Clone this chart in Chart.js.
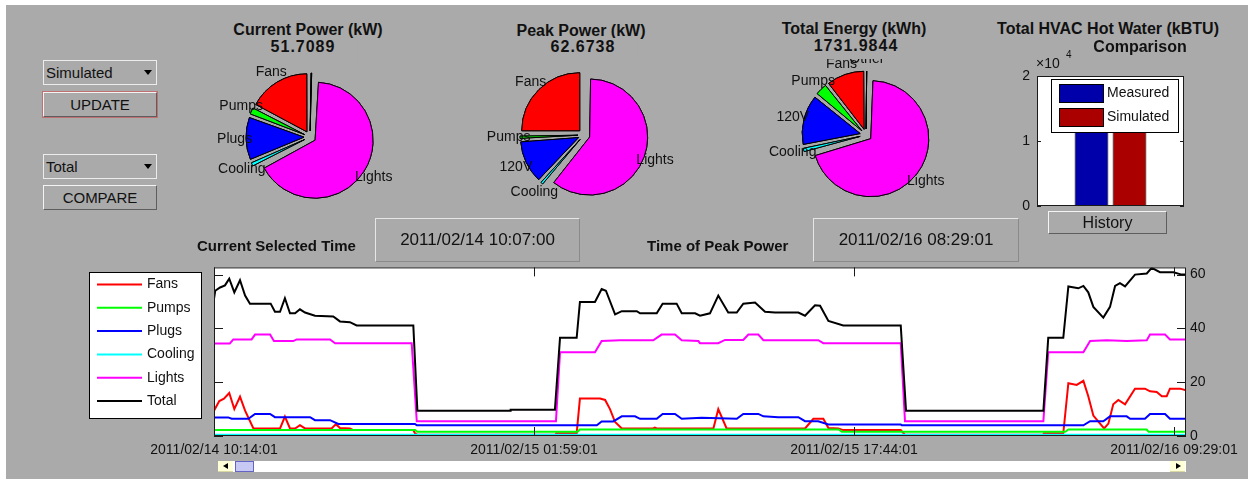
<!DOCTYPE html>
<html>
<head>
<meta charset="utf-8">
<title>Energy dashboard</title>
<script src="https://cdn.jsdelivr.net/npm/chart.js@4.4.1/dist/chart.umd.min.js"></script>
<style>
  html, body { margin: 0; padding: 0; width: 1248px; height: 479px; overflow: hidden; background: #fff; }
  body { position: relative; font-family: "Liberation Sans", Arial, sans-serif; color: #111; }
  #panel { position: absolute; left: 6px; top: 5px; right: 0; bottom: 0; background: #aaaaaa; }
  canvas { position: absolute; z-index: 1; }
  .ttl { position: absolute; transform: translateX(-50%); white-space: nowrap; font-weight: bold; font-size: 16px; line-height: 18px; z-index: 5; }
  .val { background: #aaaaaa; letter-spacing: 1px; padding: 0 22px 2px 22px; }
  .lbl { position: absolute; white-space: nowrap; font-weight: bold; font-size: 15px; line-height: 18px; z-index: 5; }
  .popup { position: absolute; box-sizing: border-box; width: 114px; height: 25px; border: 1px solid #ececec; font-size: 15px; line-height: 23px; padding-left: 2px; z-index: 5; }
  .popup:after { content: ''; position: absolute; right: 4px; top: 9px; border-left: 4px solid transparent; border-right: 4px solid transparent; border-top: 5px solid #000; }
  .btn { position: absolute; box-sizing: border-box; width: 114px; height: 25px; border-top: 1px solid #f4f4f4; border-left: 1px solid #f4f4f4; border-right: 1px solid #5e5e5e; border-bottom: 1px solid #5e5e5e; font-size: 15px; line-height: 23px; text-align: center; z-index: 5; }
  .foco { outline: 1px solid #c07070; }
  .caja { position: absolute; box-sizing: border-box; height: 44px; border: 1px solid #e6e6e6; border-right-color: #8a8a8a; border-bottom-color: #8a8a8a; font-size: 17px; line-height: 42px; text-align: center; z-index: 2; }
  .scroll { position: absolute; left: 218px; top: 461px; width: 968px; height: 11px; background: #fff; z-index: 3; }
  .flecha { position: absolute; top: 0; width: 15px; height: 10px; background: #ffffd8; border-bottom: 1px solid #d8d8a0; }
  .flecha i { position: absolute; top: 2px; width: 0; height: 0; border-top: 3px solid transparent; border-bottom: 3px solid transparent; }
  .thumb { position: absolute; left: 17px; top: 0; width: 17px; height: 9px; background: #c8c8f4; border: 1px solid #6464c4; }
</style>
</head>
<body>
<div id="panel"></div>

<!-- controles de la izquierda -->
<div class="popup" style="left:43px;top:60px;">Simulated</div>
<div class="btn foco" style="left:43px;top:92px;">UPDATE</div>
<div class="popup" style="left:43px;top:154px;">Total</div>
<div class="btn" style="left:43px;top:185px;">COMPARE</div>

<!-- titulos de los pasteles -->
<div class="ttl" style="left:308px;top:21px;">Current Power (kW)</div>
<div class="ttl val" style="left:303px;top:38px;padding-bottom:10px;">51.7089</div>
<div class="ttl" style="left:581px;top:22px;">Peak Power (kW)</div>
<div class="ttl val" style="left:583px;top:38px;">62.6738</div>
<div class="ttl" style="left:854px;top:20px;">Total Energy (kWh)</div>
<div class="ttl val" style="left:856px;top:37px;padding-bottom:4px;">1731.9844</div>
<div class="ttl" style="left:1108px;top:20px;">Total HVAC Hot Water (kBTU)</div>
<div class="ttl" style="left:1140px;top:38px;">Comparison</div>

<div class="btn" style="left:1048px;top:211px;width:119px;height:23px;line-height:21px;font-size:16px;">History</div>

<!-- tiempos -->
<div class="lbl" style="left:197px;top:237px;">Current Selected Time</div>
<div class="caja" style="left:375px;top:218px;width:205px;">2011/02/14 10:07:00</div>
<div class="lbl" style="left:647px;top:237px;">Time of Peak Power</div>
<div class="caja" style="left:813px;top:218px;width:206px;">2011/02/16 08:29:01</div>

<!-- barra de desplazamiento -->
<div class="scroll">
  <div class="flecha" style="left:0;"><i style="left:5px;border-right:5px solid #000;"></i></div>
  <div class="thumb"></div>
  <div class="flecha" style="left:952px;"><i style="left:6px;border-left:5px solid #000;"></i></div>
</div>

<canvas id="pie-actual" width="220" height="170" style="left:200px;top:52px;"></canvas>
<canvas id="pie-pico" width="220" height="170" style="left:474px;top:50px;"></canvas>
<canvas id="pie-energia" width="220" height="170" style="left:756px;top:50px;"></canvas>
<canvas id="grafico-barras" width="220" height="175" style="left:990px;top:50px;"></canvas>
<canvas id="grafico-linea" width="1248" height="224" style="left:0;top:255px;"></canvas>

<script>
// Datos de los pasteles (orden de MATLAB: antihorario desde arriba)
const etiquetasActual = ["Fans", "Pumps", "Plugs", "Cooling", "Lights", "Other"];
const etiquetasPico = ["Fans", "Pumps", "120V", "Cooling", "Lights", "Other"];
const etiquetasEnergia = ["Fans", "Pumps", "120V", "Cooling", "Lights", "Other"];
const potenciaActual = [8.9, 1.15, 6.15, 0.72, 34.44, 0.35];
const potenciaPico = [15.67, 0.69, 7.46, 0.69, 38.16, 0];
const energiaTotal = [182.9, 62.5, 240.6, 24.1, 1215.9, 6.0];
const coloresPastel = ["#ff0000", "#00ff00", "#0000ff", "#00ffff", "#ff00ff", "#000000"];

// Datos de la comparacion de agua caliente
const seriesHVAC = ["Measured", "Simulated"];
const valoresHVAC = [16200, 15800];
const ticksHVAC = [0, 10000, 20000];
const coloresHVAC = ["#0000aa", "#aa0000"];

// Serie temporal: [horas desde 2011/02/14 10:14:01, kW]
const seriesNombres = ["Fans", "Pumps", "Plugs", "Cooling", "Lights", "Total"];
const fans = [[0,9.4],[0.26,13],[0.49,13.9],[0.75,16],[1.0,10],[1.28,14.6],[1.53,9.4],[1.94,2.8],[3.25,2.8],[3.49,7.2],[3.74,2.8],[3.99,2.8],[4.23,4],[4.48,2.8],[5.79,2.8],[6.0,4.4],[6.2,3],[6.69,2.8],[6.86,2.2],[9.81,2.2],[9.89,1.0],[10.0,0.5],[16.8,0.5],[16.85,1.0],[17.85,1.0],[18.01,13.9],[19.0,13.9],[19.25,13.4],[19.49,10],[19.74,5.2],[20.07,2.8],[21.62,2.8],[21.7,3.1],[21.79,2.8],[24.58,2.8],[24.82,10],[25.23,2.8],[29.09,2.8],[29.5,6.4],[29.99,6.4],[30.24,3],[30.73,2.8],[30.97,2.2],[33.8,2.2],[34.0,0.5],[40.8,0.5],[40.85,1.0],[41.8,1.0],[42.05,19.6],[42.46,19],[42.79,20.5],[43.03,14.8],[43.28,7.6],[43.61,4.6],[43.81,2.8],[44.02,4.6],[44.26,11.8],[44.51,13.4],[44.84,11.8],[45.33,17.6],[45.82,17.6],[46.07,16.6],[46.4,16.4],[46.65,14.8],[46.89,14.8],[47.05,17.6],[47.55,17.6],[47.84,17]];
const pumps = [[0,2.2],[9.9,2.2],[10.0,1.6],[17.9,1.6],[18.0,2.4],[30.75,2.4],[30.9,1.6],[41.9,1.6],[42.05,2.4],[45.9,2.4],[46.0,1.6],[47.84,1.6]];
const plugs = [[0,6.9],[0.7,6.9],[0.87,6.4],[1.69,6.4],[2.02,8.2],[2.76,8.2],[3.0,7],[4.73,7],[4.97,5.9],[5.71,5.9],[6.12,4.5],[9.89,4.5],[9.98,4.0],[18.84,4.0],[19.08,5.4],[19.65,5.4],[20.07,7.3],[20.72,7.3],[20.97,6.4],[21.79,6.4],[22.08,8.2],[22.69,8.2],[23.02,6.4],[24.0,6.8],[25.73,6.4],[26.05,8.2],[26.79,8.2],[27.04,7.3],[27.77,7],[28.76,7],[29.09,5.5],[29.74,5.5],[30.24,4.3],[33.8,4.3],[33.85,4.0],[42.79,4.0],[43.12,5.5],[43.77,5.5],[44.1,7.3],[44.92,7.3],[45.09,6.4],[45.82,6.4],[46.07,8.2],[46.81,8.2],[47.05,6.4],[47.84,6.4]];
const cooling = [[0,0.5],[20,0.5],[47.84,0.5]];
const lights = [[0,34.4],[0.78,34.4],[0.95,35.9],[1.85,35.9],[2.02,37.7],[2.76,37.7],[2.95,35.3],[3.9,35.3],[4.07,35.9],[5.71,35.9],[5.96,34.5],[9.73,34.5],[9.98,5.5],[16.83,5.5],[17.03,31.1],[18.75,31.1],[19.08,35.3],[19.98,35.6],[21.62,35.6],[22.03,37.7],[22.69,37.7],[23.02,35.6],[23.84,35.3],[23.92,34.5],[24.82,34.5],[25.15,35.7],[26.05,35.7],[26.3,37.7],[26.79,37.7],[27.04,35.6],[29.74,35.6],[29.99,34.5],[33.8,34.5],[34.01,5.5],[40.82,5.5],[41.06,31.1],[42.79,31.1],[43.12,35.3],[43.94,35.6],[44.92,35.3],[45.91,35.6],[46.07,37.7],[46.81,37.7],[47.05,35.9],[47.84,35.9]];
const total = [[0,51],[0.06,54],[0.3,55.2],[0.54,56],[0.75,58.5],[1.0,53.4],[1.28,57.9],[1.53,52.2],[1.77,49.2],[2.79,49.2],[3.0,46.2],[3.25,46.2],[3.49,51.2],[3.74,45.6],[3.99,45.6],[4.23,47.1],[4.48,45.9],[4.97,44.7],[5.87,44.4],[6.2,42.6],[6.69,42.3],[7.02,41.1],[9.81,41.1],[10.01,9.4],[14.57,9.4],[14.6,9.8],[16.78,9.8],[17.03,36.5],[17.85,36.5],[18.01,49.8],[18.75,49.8],[19.08,54.6],[19.29,54],[19.74,45.2],[20.07,46.4],[20.81,46.4],[20.97,45.6],[21.79,45.6],[22.08,49.2],[22.77,49.2],[23.02,45.6],[23.68,45.6],[23.92,44.7],[24.41,45.6],[24.82,52.2],[25.31,45.9],[25.73,45.9],[26.05,49.2],[26.63,49.6],[27.12,46.2],[27.61,45.9],[28.76,45.9],[29.09,44.7],[29.58,48.6],[29.83,48.4],[30.24,42.8],[30.97,41.1],[33.8,41.1],[34.06,9.4],[40.82,9.4],[41.06,36.5],[41.8,36.5],[42.05,55.6],[42.54,54.9],[42.79,55.8],[43.03,53.4],[43.28,48],[43.77,44],[44.1,48],[44.35,55.8],[44.59,56.8],[44.84,55.6],[45.33,60],[45.91,60.4],[46.15,62.5],[46.56,60.9],[47.22,60.9],[47.63,60],[47.84,60]];
const seriesDatos = [fans, pumps, plugs, cooling, lights, total];
const seriesColores = ["#ff0000", "#00ff00", "#0000ff", "#00ffff", "#ff00ff", "#000000"];
const ticksHoras = [0, 15.75, 31.5, 47.25];
const ticksEtiquetas = ["2011/02/14 10:14:01", "2011/02/15 01:59:01", "2011/02/15 17:44:01", "2011/02/16 09:29:01"];
const ticksKW = [0, 20, 40, 60];
const potenciaMax = 62.6738;
const horasMax = 47.84;

Chart.defaults.font.family = '"Liberation Sans", Arial, sans-serif';
Chart.defaults.font.size = 14;
Chart.defaults.color = "#111";

const RADIO = 58;

// Como MATLAB: cada porcion y luego su texto, en orden antihorario
const etiquetasPastel = {
    id: "etiquetasPastel",
    beforeDatasetsDraw(chart) {
        const meta = chart.getDatasetMeta(0);
        const ds = chart.data.datasets[0];
        meta.data.forEach(arc => {
            // Chart.js agranda las porciones desplazadas; se compensa
            const circ = arc.endAngle - arc.startAngle;
            const fix = 1 - Math.sin(Math.min(Math.PI, circ));
            arc._radioOriginal = arc.outerRadius;
            arc.outerRadius = RADIO - (ds.offset / 4) * fix;
        });
    },
    afterDatasetsDraw(chart) {
        const ctx = chart.ctx;
        const meta = chart.getDatasetMeta(0);
        const ds = chart.data.datasets[0];
        for (let i = meta.data.length - 1; i >= 0; i--) {
            const arc = meta.data[i];
            if (!ds.data[i]) continue;
            arc.draw(ctx);
            const medio = (arc.startAngle + arc.endAngle) / 2;
            const r = RADIO * 1.3;
            ctx.save();
            ctx.font = "14px " + Chart.defaults.font.family;
            ctx.fillStyle = "#111";
            ctx.textAlign = "center";
            ctx.textBaseline = "middle";
            ctx.fillText(chart.data.labels[i], arc.x + Math.cos(medio) * r, arc.y + Math.sin(medio) * r);
            ctx.restore();
        }
        meta.data.forEach(arc => {
            if (arc._radioOriginal !== undefined) arc.outerRadius = arc._radioOriginal;
        });
    }
};

function crearPastel(id, etiquetas, valores) {
    // Chart.js gira en sentido horario: se invierte el orden
    return new Chart(document.getElementById(id), {
        type: "pie",
        data: {
            labels: etiquetas.slice().reverse(),
            datasets: [{
                data: valores.slice().reverse(),
                backgroundColor: coloresPastel.slice().reverse(),
                borderColor: "#000",
                borderWidth: 1,
                offset: 24,
                hoverOffset: 0,
                radius: RADIO
            }]
        },
        options: {
            responsive: false,
            animation: false,
            events: [],
            plugins: { legend: { display: false }, tooltip: { enabled: false } }
        },
        plugins: [etiquetasPastel]
    });
}

crearPastel("pie-actual", etiquetasActual, potenciaActual);
crearPastel("pie-pico", etiquetasPico, potenciaPico);
crearPastel("pie-energia", etiquetasEnergia, energiaTotal);

// Fondo blanco del area de trazado
const fondoArea = {
    id: "fondoArea",
    beforeDraw(chart) {
        const a = chart.chartArea;
        chart.ctx.save();
        chart.ctx.fillStyle = "#fff";
        chart.ctx.fillRect(a.left, a.top, a.width, a.height);
        chart.ctx.restore();
    }
};

// Caja estilo MATLAB con marcas hacia dentro
const cajaEjes = {
    id: "cajaEjes",
    afterDatasetsDraw(chart, args, opts) {
        const { ctx, chartArea: a, scales } = chart;
        const largo = opts.largo || 8;
        ctx.save();
        ctx.strokeStyle = "#1a1a1a";
        ctx.lineWidth = 1;
        ctx.strokeRect(a.left + 0.5, a.top + 0.5, a.width - 1, a.height - 1);
        ctx.beginPath();
        scales.y.ticks.forEach(t => {
            const y = Math.round(scales.y.getPixelForValue(t.value)) + 0.5;
            ctx.moveTo(a.left, y); ctx.lineTo(a.left + largo, y);
            ctx.moveTo(a.right, y); ctx.lineTo(a.right - largo, y);
        });
        if (opts.marcasX) {
            scales.x.ticks.forEach(t => {
                const x = Math.round(scales.x.getPixelForValue(t.value)) + 0.5;
                ctx.moveTo(x, a.top); ctx.lineTo(x, a.top + largo);
                ctx.moveTo(x, a.bottom); ctx.lineTo(x, a.bottom - largo);
            });
        }
        ctx.stroke();
        ctx.restore();
    }
};

// Leyenda de la serie temporal (caja a la izquierda)
const leyendaLinea = {
    id: "leyendaLinea",
    afterDraw(chart) {
        const ctx = chart.ctx;
        ctx.save();
        ctx.fillStyle = "#fff";
        ctx.fillRect(89.5, 17.5, 112, 146);
        ctx.strokeStyle = "#000";
        ctx.lineWidth = 1;
        ctx.strokeRect(89.5, 17.5, 112, 146);
        ctx.font = "14px " + Chart.defaults.font.family;
        ctx.textBaseline = "middle";
        chart.data.datasets.forEach((ds, i) => {
            const y = 29.5 + i * 23.3;
            ctx.strokeStyle = ds.borderColor;
            ctx.lineWidth = 2;
            ctx.beginPath();
            ctx.moveTo(97, y); ctx.lineTo(142, y);
            ctx.stroke();
            ctx.fillStyle = "#111";
            ctx.fillText(ds.label, 147, y);
        });
        ctx.restore();
    }
};

new Chart(document.getElementById("grafico-linea"), {
    type: "line",
    data: {
        datasets: seriesNombres.map((nombre, i) => ({
            label: nombre,
            data: seriesDatos[i].map(p => ({ x: p[0], y: p[1] })),
            borderColor: seriesColores[i],
            borderWidth: 2,
            pointRadius: 0,
            tension: 0,
            fill: false,
            order: seriesNombres.length - i
        }))
    },
    options: {
        responsive: false,
        animation: false,
        events: [],
        layout: { padding: { left: 214, top: 8, right: 0, bottom: 0 } },
        plugins: { legend: { display: false }, tooltip: { enabled: false }, cajaEjes: { largo: 9, marcasX: true } },
        scales: {
            x: {
                type: "linear",
                min: 0,
                max: horasMax,
                grid: { display: false, drawTicks: false },
                border: { display: false },
                afterBuildTicks: s => { s.ticks = ticksHoras.map(v => ({ value: v })); },
                afterFit: s => { s.height = 43; },
                ticks: { autoSkip: false, maxRotation: 0, minRotation: 0, padding: 6, callback: (v, i) => ticksEtiquetas[i] }
            },
            y: {
                position: "right",
                min: 0,
                max: potenciaMax,
                grid: { display: false, drawTicks: false },
                border: { display: false },
                afterBuildTicks: s => { s.ticks = ticksKW.map(v => ({ value: v })); },
                afterFit: s => { s.width = 62; },
                ticks: { padding: 4, callback: v => v }
            }
        }
    },
    plugins: [fondoArea, cajaEjes, leyendaLinea]
});

// Leyenda y factor de escala del grafico de barras
const leyendaBarras = {
    id: "leyendaBarras",
    afterDraw(chart) {
        const ctx = chart.ctx;
        const a = chart.chartArea;
        ctx.save();
        ctx.fillStyle = "#111";
        ctx.font = "14px " + Chart.defaults.font.family;
        ctx.textBaseline = "middle";
        ctx.fillText("\u00d710", a.left - 1, 14);
        ctx.font = "10px " + Chart.defaults.font.family;
        ctx.fillText("4", a.left + 29, 5);
        ctx.fillStyle = "#fff";
        ctx.fillRect(61.5, 29.5, 127, 53);
        ctx.strokeStyle = "#000";
        ctx.lineWidth = 1;
        ctx.strokeRect(61.5, 29.5, 127, 53);
        ctx.font = "14px " + Chart.defaults.font.family;
        chart.data.datasets.forEach((ds, i) => {
            const y = 34.5 + i * 24;
            ctx.fillStyle = ds.backgroundColor;
            ctx.fillRect(69.5, y, 44, 18);
            ctx.strokeRect(69.5, y, 44, 18);
            ctx.fillStyle = "#111";
            ctx.fillText(ds.label, 117, y + 9);
        });
        ctx.restore();
    }
};

new Chart(document.getElementById("grafico-barras"), {
    type: "bar",
    data: {
        labels: [""],
        datasets: seriesHVAC.map((nombre, i) => ({
            label: nombre,
            data: [valoresHVAC[i]],
            backgroundColor: coloresHVAC[i],
            borderColor: "#000",
            borderWidth: 1,
            categoryPercentage: 0.517,
            barPercentage: 0.89
        }))
    },
    options: {
        responsive: false,
        animation: false,
        events: [],
        layout: { padding: { left: 0, top: 26, right: 26, bottom: 19 } },
        plugins: { legend: { display: false }, tooltip: { enabled: false }, cajaEjes: { largo: 4 } },
        scales: {
            x: { display: false },
            y: {
                min: 0,
                max: 20000,
                grid: { display: false, drawTicks: false },
                border: { display: false },
                afterBuildTicks: s => { s.ticks = ticksHVAC.map(v => ({ value: v })); },
                afterFit: s => { s.width = 47; },
                ticks: { padding: 7, callback: v => v / 10000 }
            }
        }
    },
    plugins: [fondoArea, cajaEjes, leyendaBarras]
});
</script>
</body>
</html>
